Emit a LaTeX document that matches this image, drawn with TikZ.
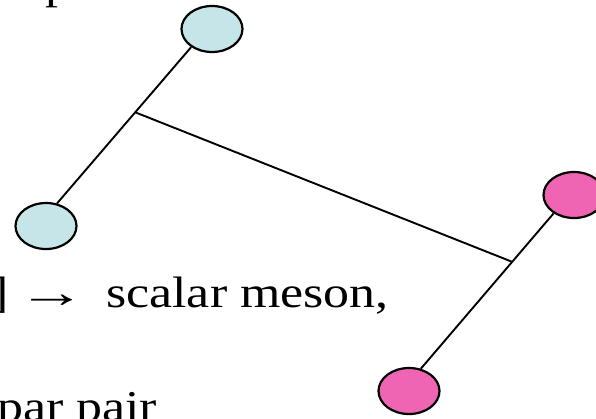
\documentclass[tikz,border=0pt]{standalone}
\usepackage{fontspec}
\setmainfont{Liberation Serif}
\usetikzlibrary{calc,shapes.geometric}
\definecolor{quarkblue}{HTML}{C6E5E8}
\definecolor{quarkpink}{HTML}{F064B4}

\begin{document}
\begin{tikzpicture}[
    x=1pt, y=-1pt,
    quark/.style={ellipse, draw=black, line width=2.2pt, inner sep=0pt,
      minimum width=61pt, minimum height=46pt},
    string/.style={line width=1.9pt, black},
    txt/.style={inner sep=0pt, font=\fontsize{44pt}{50pt}\selectfont}
  ]
  \useasboundingbox (0,0) rectangle (596,418);

  % Text fragments
  \node[txt, anchor=base west] (ptop) at (45,-2) {\scalebox{1.18}[1]{p}};
  \node[txt, anchor=base east] (meson) at (389,307)
    {\scalebox{1.18}[1]{]\,\scalebox{1.33}[1]{→}\hspace{17pt}scalar meson,}};
  \node[txt, anchor=base west] (pair) at (-3,421) {\scalebox{1.18}[1]{par pair}};

  % Quarks
  \node[quark, fill=quarkblue] (qa) at (212,29) {};
  \node[quark, fill=quarkblue] (qb) at (46,226) {};
  \node[quark, fill=quarkpink] (qc) at (574,195) {};
  \node[quark, fill=quarkpink] (qd) at (409,391) {};

  % Junctions
  \coordinate (jl) at ($(qa.221)!0.417!(qb.64)$);
  \coordinate (jr) at ($(qc.222)!0.312!(qd.62)$);

  % Strings
  \draw[string] (qa.221) -- (qb.64);
  \draw[string] (qc.222) -- (qd.62);
  \draw[string] (jl) -- (jr);
\end{tikzpicture}
\end{document}
